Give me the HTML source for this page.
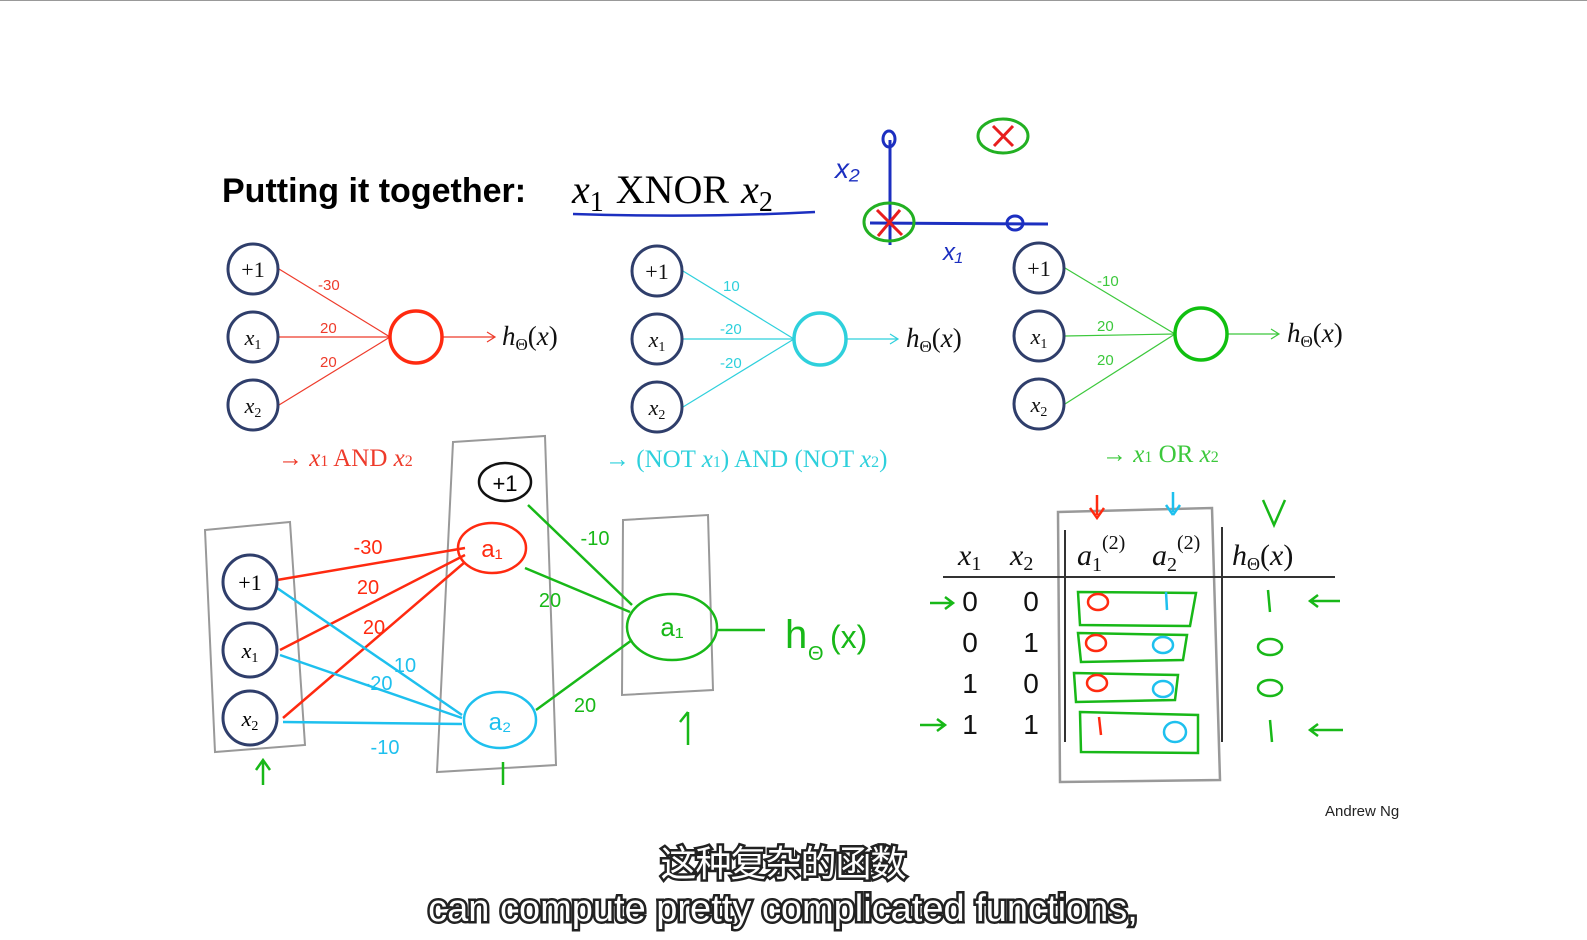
<!DOCTYPE html>
<html><head><meta charset="utf-8"><style>
html,body{margin:0;padding:0;background:#fff;width:1587px;height:940px;overflow:hidden}
svg{display:block}
.serif{font-family:"Liberation Serif",serif;font-style:italic}
.up{font-family:"Liberation Serif",serif}
.hand{font-family:"Liberation Sans",sans-serif}
.sub{font-family:"Liberation Sans","Noto Sans CJK SC",sans-serif;font-size:36px;fill:#fff;stroke:#222;stroke-width:5px;paint-order:stroke;letter-spacing:-1px}
</style></head><body>
<svg width="1587" height="940" viewBox="0 0 1587 940">
<line x1="0" y1="0.5" x2="1587" y2="0.5" stroke="#999" stroke-width="1"/>
<g>
<text x="222" y="202" font-family="Liberation Sans,sans-serif" font-weight="bold" font-size="34">Putting it together:</text>
<text x="572" y="203" class="serif" font-size="40">x<tspan font-size="28" dy="8" font-style="normal">1</tspan><tspan dy="-8" font-style="normal" dx="12">XNOR</tspan><tspan dx="12">x</tspan><tspan font-size="28" dy="8" font-style="normal">2</tspan></text>
<path d="M573 214 Q700 218 815 212" stroke="#1c2fc0" stroke-width="2.5" fill="none"/>
</g>
<g fill="none" stroke-width="3">
<path d="M890 140 L890 245" stroke="#1c2fc0"/><path d="M870 223 L1048 224" stroke="#1c2fc0"/>
<ellipse cx="889" cy="139" rx="6" ry="8" stroke="#1c2fc0"/><ellipse cx="1015" cy="223" rx="8" ry="7" stroke="#1c2fc0"/>
<text x="835" y="178" fill="#1c2fc0" stroke="none" font-size="28" class="hand" font-style="italic">x₂</text>
<text x="943" y="260" fill="#1c2fc0" stroke="none" font-size="24" class="hand" font-style="italic">x₁</text>
<ellipse cx="889" cy="222" rx="25" ry="19" stroke="#22b022"/>
<path d="M877 210 L902 235 M900 210 L878 236" stroke="#e81e1e"/>
<ellipse cx="1003" cy="136" rx="25" ry="17" stroke="#22b022"/>
<path d="M993 126 L1013 146 M1013 126 L994 146" stroke="#e81e1e"/>
</g>
<g fill="none">
<g stroke="#ee3b2b" stroke-width="1.2"><line x1="279" y1="269" x2="390" y2="337"/><line x1="279" y1="337" x2="390" y2="337"/><line x1="279" y1="405" x2="390" y2="337"/><path d="M442 337 L495 337 M487 332 L495 337 L487 342"/></g>
<g fill="#ee3b2b" stroke="none" font-size="15" class="hand"><text x="318" y="290">-30</text><text x="320" y="333">20</text><text x="320" y="367">20</text></g>
<circle cx="416" cy="337" r="26" stroke="#ff2a10" stroke-width="3.5"/>
<text x="502" y="345" class="serif" font-size="27" fill="#111" stroke="none">h<tspan font-size="17" dy="5" font-style="normal">Θ</tspan><tspan dy="-5" font-style="normal">(</tspan>x<tspan font-style="normal">)</tspan></text>
</g>
<g fill="none">
<g stroke="#2ed0dc" stroke-width="1.2"><line x1="683" y1="271" x2="794" y2="339"/><line x1="683" y1="339" x2="794" y2="339"/><line x1="683" y1="407" x2="794" y2="339"/><path d="M846 339 L898 339 M890 334 L898 339 L890 344"/></g>
<g fill="#2ed0dc" stroke="none" font-size="15" class="hand"><text x="723" y="291">10</text><text x="720" y="334">-20</text><text x="720" y="368">-20</text></g>
<circle cx="820" cy="339" r="26" stroke="#2ed0dc" stroke-width="3.5"/>
<text x="906" y="347" class="serif" font-size="27" fill="#111" stroke="none">h<tspan font-size="17" dy="5" font-style="normal">Θ</tspan><tspan dy="-5" font-style="normal">(</tspan>x<tspan font-style="normal">)</tspan></text>
</g>
<g fill="none">
<g stroke="#3cc83c" stroke-width="1.2"><line x1="1065" y1="268" x2="1175" y2="334"/><line x1="1065" y1="336" x2="1175" y2="334"/><line x1="1065" y1="404" x2="1175" y2="334"/><path d="M1227 334 L1279 334 M1271 329 L1279 334 L1271 339"/></g>
<g fill="#3cc83c" stroke="none" font-size="15" class="hand"><text x="1097" y="286">-10</text><text x="1097" y="331">20</text><text x="1097" y="365">20</text></g>
<circle cx="1201" cy="334" r="26" stroke="#10c010" stroke-width="3.5"/>
<text x="1287" y="342" class="serif" font-size="27" fill="#111" stroke="none">h<tspan font-size="17" dy="5" font-style="normal">Θ</tspan><tspan dy="-5" font-style="normal">(</tspan>x<tspan font-style="normal">)</tspan></text>
</g>
<g fill="#fff" stroke="#2f3e6b" stroke-width="3">
<circle cx="253" cy="269" r="25"/><circle cx="253" cy="337" r="25"/><circle cx="253" cy="405" r="25"/>
<circle cx="657" cy="271" r="25"/><circle cx="657" cy="339" r="25"/><circle cx="657" cy="407" r="25"/>
<circle cx="1039" cy="268" r="25"/><circle cx="1039" cy="336" r="25"/><circle cx="1039" cy="404" r="25"/>
</g>
<g font-size="22" fill="#111" text-anchor="middle">
<text x="253" y="277" class="up">+1</text><text x="253" y="345" class="serif">x<tspan font-size="14" font-style="normal" dy="4">1</tspan></text><text x="253" y="413" class="serif">x<tspan font-size="14" font-style="normal" dy="4">2</tspan></text>
<text x="657" y="279" class="up">+1</text><text x="657" y="347" class="serif">x<tspan font-size="14" font-style="normal" dy="4">1</tspan></text><text x="657" y="415" class="serif">x<tspan font-size="14" font-style="normal" dy="4">2</tspan></text>
<text x="1039" y="276" class="up">+1</text><text x="1039" y="344" class="serif">x<tspan font-size="14" font-style="normal" dy="4">1</tspan></text><text x="1039" y="412" class="serif">x<tspan font-size="14" font-style="normal" dy="4">2</tspan></text>
</g>
<g font-size="25">
<text x="278" y="466" fill="#ee3b2b" class="up">→ <tspan class="serif">x</tspan><tspan font-size="16">1</tspan> AND <tspan class="serif">x</tspan><tspan font-size="16">2</tspan></text>
<text x="605" y="467" fill="#2ed0dc" class="up">→ (NOT <tspan class="serif">x</tspan><tspan font-size="16">1</tspan>) AND (NOT <tspan class="serif">x</tspan><tspan font-size="16">2</tspan>)</text>
<text x="1102" y="462" fill="#3cc83c" class="up">→ <tspan class="serif">x</tspan><tspan font-size="16">1</tspan> OR <tspan class="serif">x</tspan><tspan font-size="16">2</tspan></text>
</g>
<g fill="none" stroke-width="2.5">
<g stroke="#999" stroke-width="2"><path d="M205 530 L290 522 L305 745 L215 752 Z"/><path d="M453 442 L545 436 L556 765 L437 772 Z"/><path d="M623 520 L708 515 L713 690 L622 695 Z"/></g>
<g stroke="#ff2a10"><path d="M277 580 L465 548 M280 650 L465 555 M283 718 L465 562"/><ellipse cx="492" cy="548" rx="34" ry="25"/></g>
<g stroke="#1ec0ee"><path d="M277 588 L462 715 M280 655 L462 718 M283 722 L462 724"/><ellipse cx="500" cy="720" rx="36" ry="28"/></g>
<g stroke="#18b818"><path d="M528 505 L632 605 M525 568 L630 612 M536 710 L632 640 M718 630 L765 630"/><ellipse cx="672" cy="627" rx="45" ry="33"/><path d="M688 745 L688 712 M680 722 L688 712 M697 722 M263 785 L263 760 M256 770 L263 760 L270 770 M503 785 L503 762"/></g>
<ellipse cx="505" cy="482" rx="26" ry="19" stroke="#111"/>
</g>
<g fill="#fff" stroke="#2f3e6b" stroke-width="3">
<circle cx="250" cy="582" r="27"/><circle cx="250" cy="650" r="27"/><circle cx="250" cy="718" r="27"/>
</g>
<g font-size="22" text-anchor="middle">
<text x="250" y="590" class="up">+1</text><text x="250" y="658" class="serif">x<tspan font-size="14" font-style="normal" dy="4">1</tspan></text><text x="250" y="726" class="serif">x<tspan font-size="14" font-style="normal" dy="4">2</tspan></text>
<text x="505" y="491" class="hand" font-size="22">+1</text>
<g fill="#ff2a10" class="hand" font-size="20"><text x="368" y="554">-30</text><text x="368" y="594">20</text><text x="374" y="634">20</text><text x="492" y="557" font-size="24">a₁</text></g>
<g fill="#1ec0ee" class="hand" font-size="20"><text x="405" y="672">10</text><text x="378" y="690">-20</text><text x="385" y="754">-10</text><text x="500" y="730" font-size="24">a₂</text></g>
<g fill="#18b818" class="hand" font-size="20"><text x="595" y="545">-10</text><text x="550" y="607">20</text><text x="585" y="712">20</text><text x="672" y="636" font-size="26">a₁</text><text x="785" y="648" font-size="40" text-anchor="start">h</text><text x="808" y="660" font-size="20" text-anchor="start">Θ</text><text x="830" y="648" font-size="32" text-anchor="start">(x)</text></g>
</g>
<g>
<path d="M1058 512 L1212 508 L1220 780 L1060 782 Z" fill="none" stroke="#999" stroke-width="2.5"/>
<line x1="943" y1="577" x2="1335" y2="577" stroke="#333" stroke-width="2"/>
<line x1="1065" y1="530" x2="1065" y2="742" stroke="#333" stroke-width="2"/>
<line x1="1222" y1="527" x2="1222" y2="742" stroke="#333" stroke-width="2"/>
<g font-size="30" class="serif" fill="#111"><text x="958" y="565">x<tspan font-size="20" font-style="normal" dy="5">1</tspan></text><text x="1010" y="565">x<tspan font-size="20" font-style="normal" dy="5">2</tspan></text>
<text x="1077" y="565">a<tspan font-size="20" font-style="normal" dy="6">1</tspan><tspan font-size="20" font-style="normal" dy="-22">(2)</tspan></text>
<text x="1152" y="565">a<tspan font-size="20" font-style="normal" dy="6">2</tspan><tspan font-size="20" font-style="normal" dy="-22">(2)</tspan></text>
<text x="1232" y="565">h<tspan font-size="18" font-style="normal" dy="5">Θ</tspan><tspan font-style="normal" dy="-5">(</tspan>x<tspan font-style="normal">)</tspan></text></g>
<g font-family="Liberation Sans,sans-serif" font-size="28" fill="#111" text-anchor="middle">
<text x="970" y="611">0</text><text x="1031" y="611">0</text><text x="970" y="652">0</text><text x="1031" y="652">1</text>
<text x="970" y="693">1</text><text x="1031" y="693">0</text><text x="970" y="734">1</text><text x="1031" y="734">1</text></g>
<g fill="none" stroke="#18b818" stroke-width="2.5">
<path d="M1078 592 L1196 593 L1190 626 L1080 625 Z M1078 633 L1187 635 L1183 660 L1081 662 Z M1074 673 L1178 675 L1175 700 L1076 702 Z M1080 712 L1198 715 L1198 753 L1081 752 Z"/>
<path d="M930 603 L953 603 M945 597 L953 603 L945 609 M920 725 L945 725 M937 719 L945 725 L937 731 M1340 601 L1310 601 M1318 595 L1310 601 L1318 607 M1343 730 L1310 730 M1318 724 L1310 730 L1318 736 M1268 590 L1270 612 M1270 720 L1272 742 M1263 500 L1274 525 L1285 500"/>
<ellipse cx="1270" cy="647" rx="12" ry="8"/><ellipse cx="1270" cy="688" rx="12" ry="8"/></g>
<g fill="none" stroke="#ff2a10" stroke-width="2.5"><ellipse cx="1098" cy="602" rx="10" ry="8"/><ellipse cx="1096" cy="643" rx="10" ry="8"/><ellipse cx="1097" cy="683" rx="10" ry="8"/><path d="M1099 717 L1101 735 M1097 495 L1097 515 M1090 508 L1097 518 L1104 508"/></g>
<g fill="none" stroke="#1ec0ee" stroke-width="2.5"><path d="M1166 592 L1167 610 M1173 492 L1173 512 M1166 505 L1173 515 M1180 505 L1173 515"/><ellipse cx="1163" cy="645" rx="10" ry="8"/><ellipse cx="1163" cy="689" rx="10" ry="8"/><ellipse cx="1175" cy="732" rx="11" ry="10"/></g>
</g>
<text x="1325" y="816" font-family="Liberation Sans,sans-serif" font-size="15" fill="#222">Andrew Ng</text>
<g text-anchor="middle">
<text x="783" y="876" class="sub">这种复杂的函数</text>
<text x="783" y="921" class="sub" style="font-size:38px;letter-spacing:0">can compute pretty complicated functions,</text>
</g>
</svg>
</body></html>
